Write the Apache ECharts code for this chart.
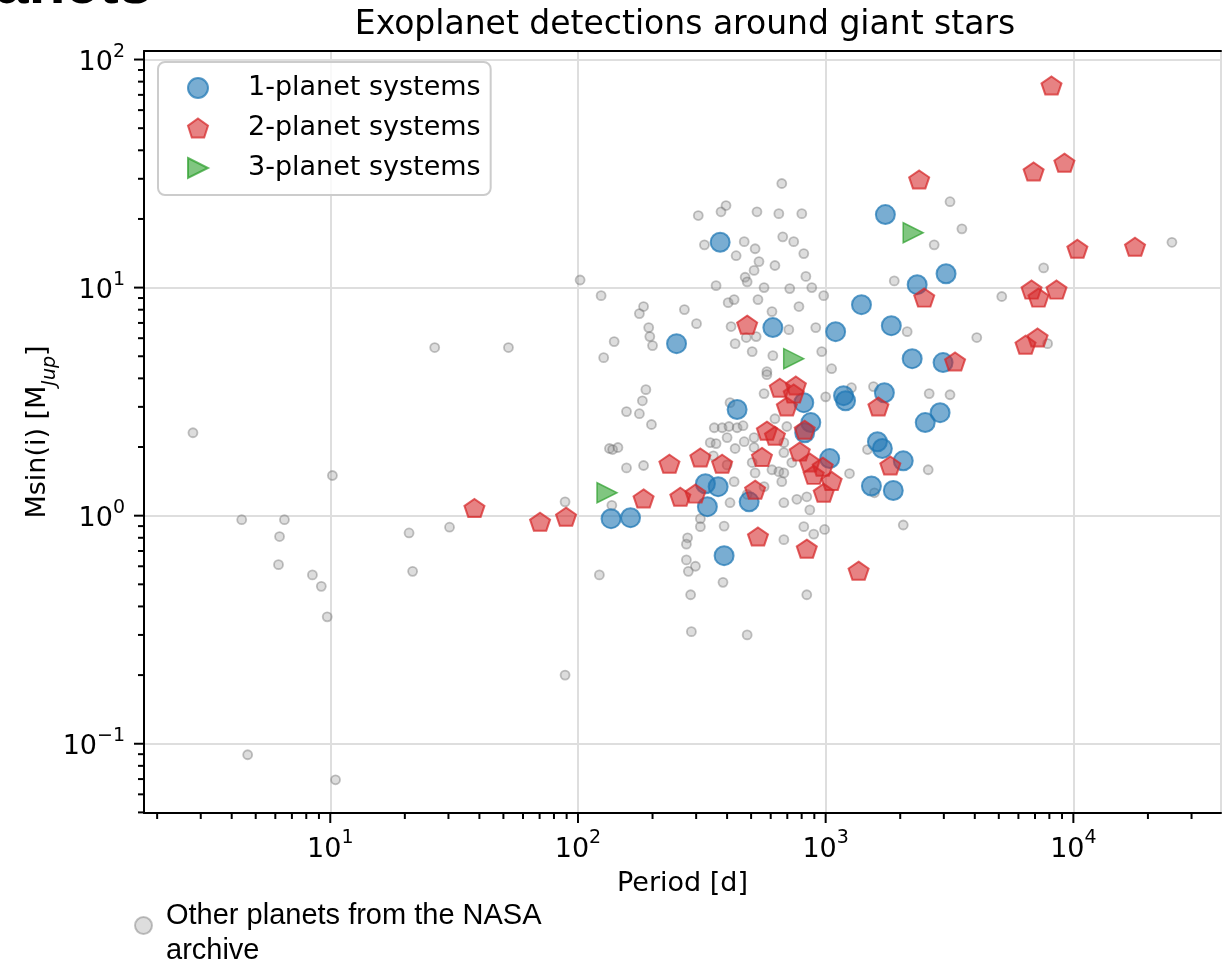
<!DOCTYPE html>
<html>
<head>
<meta charset="utf-8">
<script src="https://cdn.jsdelivr.net/npm/echarts@6/dist/echarts.min.js"></script>
<style>
  html, body { margin: 0; padding: 0; background: #fff; overflow: hidden; }
  #chart { width: 1224px; height: 965px; }
</style>
</head>
<body>
<div id="chart"></div>
<script>
// Orbital period [d] and minimum mass Msin(i) [M_Jup] per planet.
const ONE_PLANET = [
  [1742, 20.9], [375, 15.8], [3062, 11.5], [2341, 10.3], [1395, 8.42], [1841, 6.81],
  [1097, 6.41], [612, 6.68], [250, 5.68], [2235, 4.88], [2978, 4.69], [1726, 3.46],
  [1181, 3.36], [1203, 3.19], [816, 3.13], [439, 2.92], [2897, 2.83], [2523, 2.56],
  [871, 2.56], [823, 2.31], [1618, 2.11], [1694, 1.97], [2057, 1.74], [1038, 1.78],
  [1530, 1.35], [1875, 1.29], [327, 1.38], [368, 1.34], [333, 1.095], [491, 1.15],
  [136, 0.97], [163, 0.98], [389, 0.668]
];

const TWO_PLANET = [
  [8160, 76.9], [9200, 35.3], [6910, 32.3], [2385, 29.8], [10380, 14.8], [17740, 15.1],
  [2500, 9.04], [6780, 9.8], [7230, 9.04], [8550, 9.8], [6410, 5.62], [7170, 6.04],
  [3330, 4.74], [482, 6.88], [653, 3.64], [758, 3.72], [743, 3.43], [697, 3.01],
  [1633, 3.01], [579, 2.36], [624, 2.24], [823, 2.38], [786, 1.91], [553, 1.81],
  [382, 1.69], [312, 1.80], [234, 1.69], [863, 1.71], [973, 1.64], [895, 1.51],
  [1057, 1.42], [982, 1.26], [184, 1.19], [259, 1.21], [298, 1.25], [519, 1.30],
  [1824, 1.66], [89.5, 0.99], [70.3, 0.94], [38.2, 1.08], [533, 0.81], [839, 0.717],
  [1358, 0.574]
];

const THREE_PLANET = [
  [2256, 17.4], [743, 4.88], [131, 1.26]
];

const NASA_ARCHIVE = [
  [2.79, 2.31], [10.2, 1.50], [4.39, 0.96], [6.53, 0.96], [6.24, 0.81], [6.18, 0.61],
  [8.47, 0.55], [9.2, 0.49], [9.72, 0.36], [20.8, 0.84], [30.3, 0.89], [21.5, 0.57],
  [26.4, 5.46], [52.4, 5.46], [4.64, 0.0895], [10.5, 0.0695], [88.7, 1.15], [88.7, 0.20],
  [102, 10.8], [124, 9.22], [122, 0.55], [140, 5.80], [127, 4.93], [134, 1.97],
  [138, 1.95], [145, 1.99], [137, 1.11], [157, 1.62], [184, 1.66], [188, 3.57],
  [182, 3.19], [157, 2.86], [177, 2.80], [198, 2.51], [184, 8.26], [177, 7.69],
  [193, 6.68], [195, 6.10], [200, 5.57], [269, 8.01], [301, 6.95], [306, 20.7],
  [378, 21.5], [396, 22.9], [528, 21.5], [647, 21.1], [801, 21.1], [665, 28.6],
  [324, 15.4], [469, 15.9], [519, 14.8], [671, 16.7], [743, 15.9], [816, 14.1],
  [435, 13.8], [538, 13.0], [624, 12.5], [514, 11.9], [473, 11.1], [482, 10.6],
  [832, 11.2], [361, 10.2], [564, 10.0], [716, 9.90], [879, 10.0], [982, 9.22],
  [404, 8.59], [427, 8.86], [533, 8.86], [607, 7.85], [780, 8.26], [415, 6.75],
  [431, 5.68], [478, 6.04], [524, 6.10], [710, 6.54], [912, 6.68], [505, 5.24],
  [612, 5.03], [964, 5.24], [1057, 4.41], [579, 4.28], [579, 4.15], [564, 3.43],
  [1000, 3.32], [1271, 3.64], [1560, 3.68], [411, 3.13], [624, 2.66], [697, 2.46],
  [355, 2.43], [382, 2.43], [407, 2.46], [439, 2.43], [464, 2.48], [342, 2.09],
  [361, 2.07], [400, 2.20], [431, 1.97], [469, 2.11], [514, 2.20], [514, 1.99],
  [678, 2.09], [678, 1.89], [730, 1.71], [352, 1.83], [400, 1.67], [505, 1.71],
  [519, 1.54], [607, 1.59], [647, 1.56], [678, 1.54], [665, 1.41], [427, 1.41],
  [564, 1.34], [482, 1.24], [411, 1.14], [678, 1.14], [765, 1.18], [839, 1.21],
  [863, 1.06], [1248, 1.53], [312, 0.97], [312, 0.895], [389, 0.90], [816, 0.895],
  [895, 0.83], [990, 0.87], [277, 0.80], [678, 0.785], [274, 0.75], [274, 0.64],
  [298, 0.60], [279, 0.57], [385, 0.51], [285, 0.45], [287, 0.31], [482, 0.30],
  [839, 0.45], [3177, 23.8], [3548, 18.1], [2742, 15.4], [25000, 15.8], [7586, 12.2],
  [1892, 10.7], [5140, 9.14], [2133, 6.41], [4074, 6.04], [7870, 5.68], [2618, 3.43],
  [3177, 3.39], [1475, 1.95], [2594, 1.59], [1574, 1.26], [2057, 0.91]
];

// Axis ranges and tick values (log axes)
const X_MIN = 1.77, X_MAX = 39450;
const Y_MIN = 0.0497, Y_MAX = 109;
const X_MAJOR_TICKS = [10, 100, 1000, 10000];
const X_MINOR_TICKS = [2, 3, 4, 5, 6, 7, 8, 9, 20, 30, 40, 50, 60, 70, 80, 90,
  200, 300, 400, 500, 600, 700, 800, 900, 2000, 3000, 4000, 5000, 6000, 7000, 8000, 9000,
  20000, 30000];
const Y_MAJOR_TICKS = [0.1, 1, 10, 100];
const Y_MINOR_TICKS = [0.05, 0.06, 0.07, 0.08, 0.09, 0.2, 0.3, 0.4, 0.5, 0.6, 0.7, 0.8, 0.9,
  2, 3, 4, 5, 6, 7, 8, 9, 20, 30, 40, 50, 60, 70, 80, 90];

const SERIES_NAMES = ['1-planet systems', '2-planet systems', '3-planet systems'];
const ARCHIVE_NAME = 'Other planets from the NASA archive';

const FONT = 'DejaVu Sans';
const PENTAGON = 'path://M0,-100L95.11,-30.9L58.78,80.9L-58.78,80.9L-95.11,-30.9Z';
const TRIANGLE_RIGHT = 'path://M-100,-100L100,0L-100,100Z';

// "10^n" labels only at whole decades
function decadeLabel(v) {
  const e = Math.log10(v);
  const r = Math.round(e);
  if (Math.abs(e - r) > 1e-6) return '';
  return '{b|10}{s|' + (r < 0 ? '\u2212' + (-r) : String(r)) + '}';
}
const decadeRich = {
  b: { fontFamily: FONT, fontSize: 27, lineHeight: 34, verticalAlign: 'bottom', color: '#000' },
  s: { fontFamily: FONT, fontSize: 19, lineHeight: 19, verticalAlign: 'top', color: '#000' }
};

// Outward tick marks drawn through the axis scales
function tickSeries(values, onYAxis, len) {
  return {
    type: 'custom',
    silent: true,
    clip: false,
    z: 6,
    data: values.map(v => onYAxis ? [X_MIN, v] : [v, Y_MIN]),
    renderItem(params, api) {
      const p = api.coord([api.value(0), api.value(1)]);
      const shape = onYAxis
        ? { x1: p[0] - len, y1: p[1], x2: p[0], y2: p[1] }
        : { x1: p[0], y1: p[1], x2: p[0], y2: p[1] + len };
      return { type: 'line', shape: shape, style: { stroke: '#000', lineWidth: 2 } };
    }
  };
}

const chart = echarts.init(document.getElementById('chart'), null, { renderer: 'canvas' });

chart.setOption({
  animation: false,
  backgroundColor: '#fff',
  grid: { left: 144, top: 51, width: 1082, height: 762, containLabel: false },
  xAxis: [{
    type: 'log', logBase: 10, min: X_MIN, max: X_MAX, position: 'bottom',
    axisLine: { show: true, onZero: false, lineStyle: { color: '#000', width: 2 } },
    axisTick: { show: false },
    minorTick: { show: false },
    axisLabel: { formatter: decadeLabel, rich: decadeRich, margin: 16, color: '#000' },
    splitLine: { show: true, lineStyle: { color: '#dedede', width: 2 } },
    name: 'Period [d]', nameLocation: 'middle', nameGap: 54,
    nameTextStyle: { fontFamily: FONT, fontSize: 27, lineHeight: 32, color: '#000' }
  }, {
    type: 'value', position: 'top', min: 0, max: 1,
    axisLine: { show: true, onZero: false, lineStyle: { color: '#000', width: 2 } },
    axisTick: { show: false }, axisLabel: { show: false }, splitLine: { show: false }
  }],
  yAxis: [{
    type: 'log', logBase: 10, min: Y_MIN, max: Y_MAX, position: 'left',
    axisLine: { show: true, onZero: false, lineStyle: { color: '#000', width: 2 } },
    axisTick: { show: false },
    minorTick: { show: false },
    axisLabel: { formatter: decadeLabel, rich: decadeRich, margin: 19, color: '#000' },
    splitLine: { show: true, lineStyle: { color: '#dedede', width: 2 } }
  }],
  legend: [{
    data: SERIES_NAMES,
    orient: 'vertical', left: 158, top: 62,
    padding: [11, 10, 12, 29],
    itemWidth: 20, itemHeight: 20, itemGap: 10,
    backgroundColor: 'rgba(255,255,255,0.8)',
    borderColor: '#cccccc', borderWidth: 2, borderRadius: 7,
    selectedMode: false,
    textStyle: { fontFamily: FONT, fontSize: 27, lineHeight: 30, color: '#000', padding: [0, 0, 0, 35] }
  }, {
    data: [ARCHIVE_NAME],
    orient: 'vertical', left: 134, top: 890, padding: 0,
    itemWidth: 17, itemHeight: 17,
    selectedMode: false,
    formatter: () => '{sp| }\n{t|Other planets from the NASA}\n{t|archive}',
    textStyle: {
      color: '#000',
      padding: [0, 0, 0, 9],
      rich: {
        sp: { fontSize: 1, lineHeight: 16 },
        t: { fontFamily: 'Liberation Sans', fontSize: 29, lineHeight: 35, color: '#000' }
      }
    }
  }],
  graphic: [{
    type: 'text', x: 152, y: 16, silent: true,
    style: { text: 'Planets', font: 'bold 60px "Liberation Sans"', fill: '#000', align: 'right', verticalAlign: 'bottom' }
  }, {
    type: 'text', x: 685, y: 25, silent: true,
    style: { text: 'Exoplanet detections around giant stars', font: '33px "DejaVu Sans"', fill: '#000', align: 'center', verticalAlign: 'middle' }
  }, {
    type: 'text', x: 42, y: 432, rotation: Math.PI / 2, silent: true,
    style: {
      text: '{a|Msin(i) [M}{j|Jup}{a|]}',
      align: 'center', verticalAlign: 'middle',
      rich: {
        a: { fontFamily: FONT, fontSize: 27, lineHeight: 30, verticalAlign: 'top', fill: '#000' },
        j: { fontFamily: FONT, fontSize: 19, fontStyle: 'italic', lineHeight: 36, verticalAlign: 'bottom', fill: '#000' }
      }
    }
  }],
  series: [{
    name: ARCHIVE_NAME, type: 'scatter', data: NASA_ARCHIVE,
    symbol: 'circle', symbolSize: 9, z: 2,
    itemStyle: { color: 'rgba(150,150,150,0.4)', borderColor: 'rgba(105,105,105,0.5)', borderWidth: 1.8 }
  }, {
    name: SERIES_NAMES[0], type: 'scatter', data: ONE_PLANET,
    symbol: 'circle', symbolSize: 19, z: 3,
    itemStyle: { color: 'rgba(31,119,180,0.75)', borderColor: 'rgba(31,119,180,0.9)', borderWidth: 2 }
  }, {
    name: SERIES_NAMES[1], type: 'scatter', data: TWO_PLANET,
    symbol: PENTAGON, symbolKeepAspect: true, symbolSize: [20, 19], z: 3,
    itemStyle: { color: 'rgba(214,39,40,0.72)', borderColor: 'rgba(214,39,40,0.9)', borderWidth: 2 }
  }, {
    name: SERIES_NAMES[2], type: 'scatter', data: THREE_PLANET,
    symbol: TRIANGLE_RIGHT, symbolKeepAspect: true, symbolSize: 20, z: 3,
    itemStyle: { color: 'rgba(44,160,44,0.75)', borderColor: 'rgba(44,160,44,0.9)', borderWidth: 1.5 }
  },
  tickSeries(X_MAJOR_TICKS, false, 10),
  tickSeries(X_MINOR_TICKS, false, 6),
  tickSeries(Y_MAJOR_TICKS, true, 10),
  tickSeries(Y_MINOR_TICKS, true, 6)
  ]
});
</script>
</body>
</html>
